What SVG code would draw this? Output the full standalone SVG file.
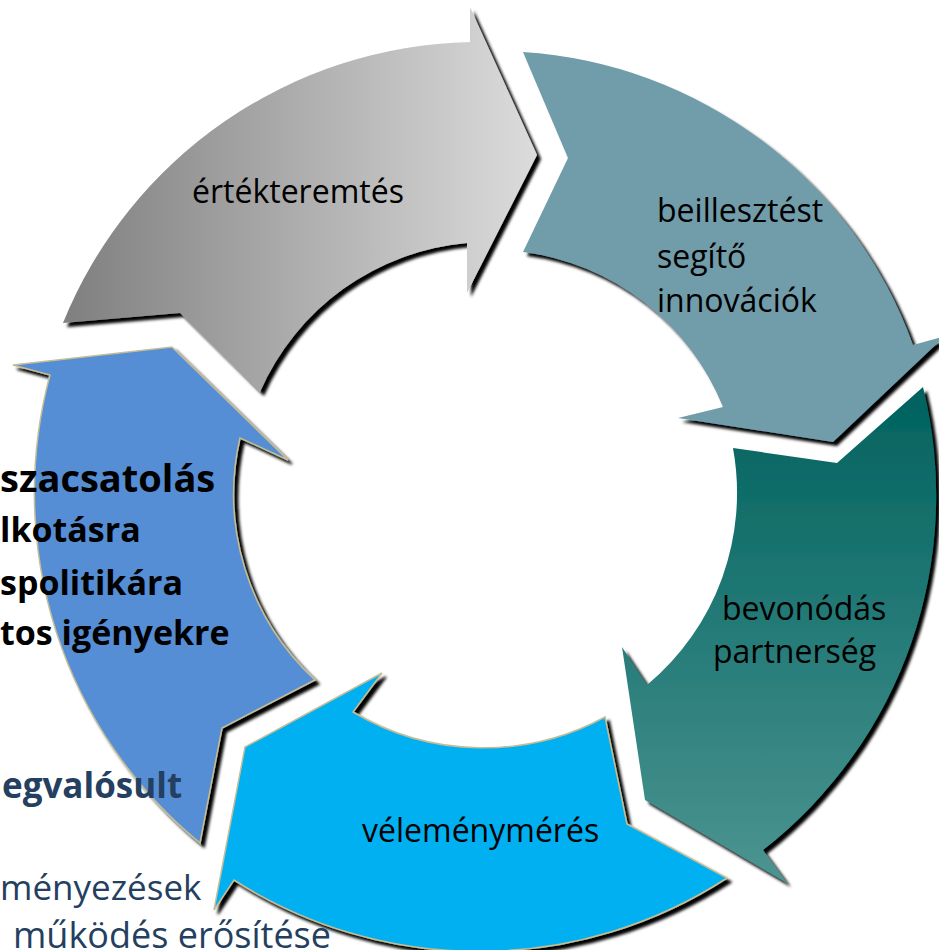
<svg xmlns="http://www.w3.org/2000/svg" width="939" height="950" viewBox="0 0 939 950">
<defs>
<style>
.lbl{font-family:"Open Sans","Noto Sans",sans-serif;font-size:32px;fill:#000}
.side{font-family:"Open Sans","Noto Sans",sans-serif;font-weight:bold;fill:#000}
.navy{fill:#243F60}
.edge{stroke:#C4BD97;stroke-width:1.5;stroke-linejoin:miter}
</style>
<filter id="sh" x="-10%" y="-10%" width="130%" height="130%">
<feGaussianBlur in="SourceAlpha" stdDeviation="1.5"/>
<feOffset dx="4" dy="4" result="o"/>
<feMerge><feMergeNode in="o"/><feMergeNode in="SourceGraphic"/></feMerge>
</filter>
<linearGradient id="gGray" x1="0" y1="0" x2="1" y2="0">
<stop offset="0" stop-color="#7F7F7F"/>
<stop offset="1" stop-color="#DCDCDC"/>
</linearGradient>
<linearGradient id="gTeal" x1="0" y1="0" x2="0" y2="1">
<stop offset="0" stop-color="#00625E"/>
<stop offset="1" stop-color="#4B9491"/>
</linearGradient>
</defs>
<rect width="939" height="950" fill="#fff"/>
<g id="connectors"/>
<g id="ertekteremtes">
<path filter="url(#sh)" fill="url(#gGray)" d="M63,323 A450,450 0 0 1 470,42 L470,7 L537,155 L467,293 L467,243 A250,250 0 0 0 260,392 L180,313 Z"/>
<text class="lbl" x="192" y="203">értékteremtés</text>
</g>
<g id="beillesztest">
<path filter="url(#sh)" fill="#719CAA" d="M523,52 A445,445 0 0 1 913,345 L945,336 L833,442 L678,418 L723,407 A250,250 0 0 0 523,252 L568,158 Z"/>
<text class="lbl" x="657" y="222">beillesztést</text>
<text class="lbl" x="657" y="268">segítő</text>
<text class="lbl" x="657" y="312">innovációk</text>
</g>
<g id="bevonodas">
<path filter="url(#sh)" fill="url(#gTeal)" d="M923,387 A450,450 0 0 1 763,850 L787,883 L645,800 L622,647 L647,685 A250,250 0 0 0 733,448 L837,463 Z"/>
<text class="lbl" x="722" y="620">bevonódás</text>
<text class="lbl" x="713" y="663">partnerség</text>
</g>
<g id="velemenymeres">
<path filter="url(#sh)" class="edge" fill="#00B0F0" d="M727,878 A455,455 0 0 1 234,880 L214,910 L245,747 L382,673 L353,712 A255,255 0 0 0 605,717 L627,824 Z"/>
<text class="lbl" x="362" y="842">véleménymérés</text>
</g>
<g id="visszacsatolas">
<path filter="url(#sh)" class="edge" fill="#558ED5" d="M200,843 A453,453 0 0 1 50,375 L13,365 L172,347 L288,460 L240,438 A253,253 0 0 0 315,680 L222,728 Z"/>
</g>
<g id="side-text">
<text class="side" x="0" y="492" font-size="38">szacsatolás</text>
<text class="side" x="0" y="542" font-size="34">lkotásra</text>
<text class="side" x="0" y="595" font-size="34">spolitikára</text>
<text class="side" x="0" y="645" font-size="34">tos igényekre</text>
<text class="side navy" x="2" y="798" font-size="35">egvalósult</text>
<text x="0" y="900" font-family="Open Sans, Noto Sans, sans-serif" font-size="35" fill="#243F60">ményezések</text>
<text x="13" y="948" font-family="Open Sans, Noto Sans, sans-serif" font-size="36" fill="#243F60">működés erősítése</text>
</g>
</svg>
